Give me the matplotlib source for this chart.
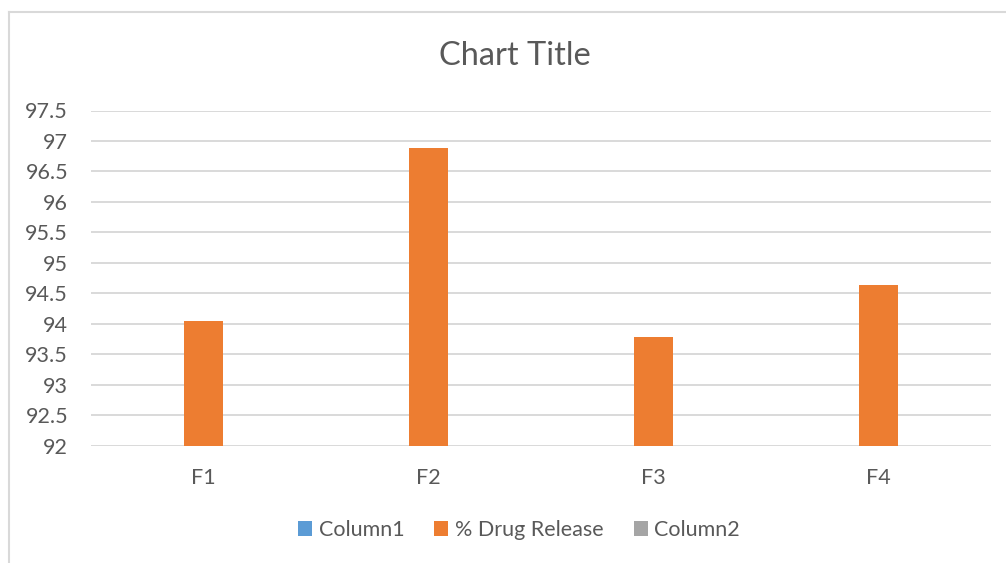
import numpy as np
import matplotlib
matplotlib.use("Agg")
import matplotlib.pyplot as plt
from matplotlib.lines import Line2D

categories = ["F1", "F2", "F3", "F4"]
column1 = [np.nan, np.nan, np.nan, np.nan]
drug_release = [94.05, 96.88, 93.78, 94.63]
column2 = [np.nan, np.nan, np.nan, np.nan]
y_ticks = [92, 92.5, 93, 93.5, 94, 94.5, 95, 95.5, 96, 96.5, 97, 97.5]
y_tick_labels = ["92", "92.5", "93", "93.5", "94", "94.5", "95", "95.5", "96", "96.5", "97", "97.5"]

W, H = 1006, 563
plt.rcParams['font.family'] = ['Lato', 'DejaVu Sans']
fig = plt.figure(figsize=(W / 100, H / 100), dpi=100)
fig.patch.set_facecolor("white")

text_c = "#595959"
grid_c = "#D9D9D9"

ax = fig.add_axes([91 / W, 1 - 445.7 / H, (991 - 91) / W, (445.7 - 110.5) / H])
x = np.arange(len(categories))
w = 0.173
b1 = ax.bar(x - w, column1, w, color="#5B9BD5", label="Column1")
b2 = ax.bar(x, drug_release, w, color="#ED7D31", label="% Drug Release")
b3 = ax.bar(x + w, column2, w, color="#A5A5A5", label="Column2")

ax.set_xlim(-0.5, len(categories) - 0.5)
ax.set_ylim(92, 97.5)
ax.set_yticks(y_ticks)
ax.set_yticklabels(y_tick_labels)
ax.set_xticks(x)
ax.set_xticklabels(categories)
ax.tick_params(axis="both", length=0, labelsize=15.5, colors=text_c)
ax.tick_params(axis="y", pad=16.5)
ax.tick_params(axis="x", pad=16)
for s in ax.spines.values():
    s.set_visible(False)
ax.yaxis.grid(True, color=grid_c, linewidth=1.4)
ax.set_axisbelow(True)

fig.text(514.5 / W, 1 - 56 / H, "Chart Title", ha="center", va="center",
         fontsize=23.5, color=text_c)

fig.legend(handles=[b1, b2, b3], labels=["Column1", "% Drug Release", "Column2"],
           loc="center", bbox_to_anchor=(519 / W, 1 - 530 / H), ncol=3,
           frameon=False, fontsize=15.5, labelcolor=text_c,
           handlelength=0.65, handleheight=0.65, handletextpad=0.3,
           columnspacing=1.4)

# chart area border (partially visible)
fig.add_artist(Line2D([8.5 / W, 8.5 / W], [0, 1 - 12 / H], color=grid_c,
                      linewidth=1.5, transform=fig.transFigure))
fig.add_artist(Line2D([8.5 / W, 1], [1 - 12 / H, 1 - 12 / H], color=grid_c,
                      linewidth=1.5, transform=fig.transFigure))

fig.savefig("out.png", dpi=100)
